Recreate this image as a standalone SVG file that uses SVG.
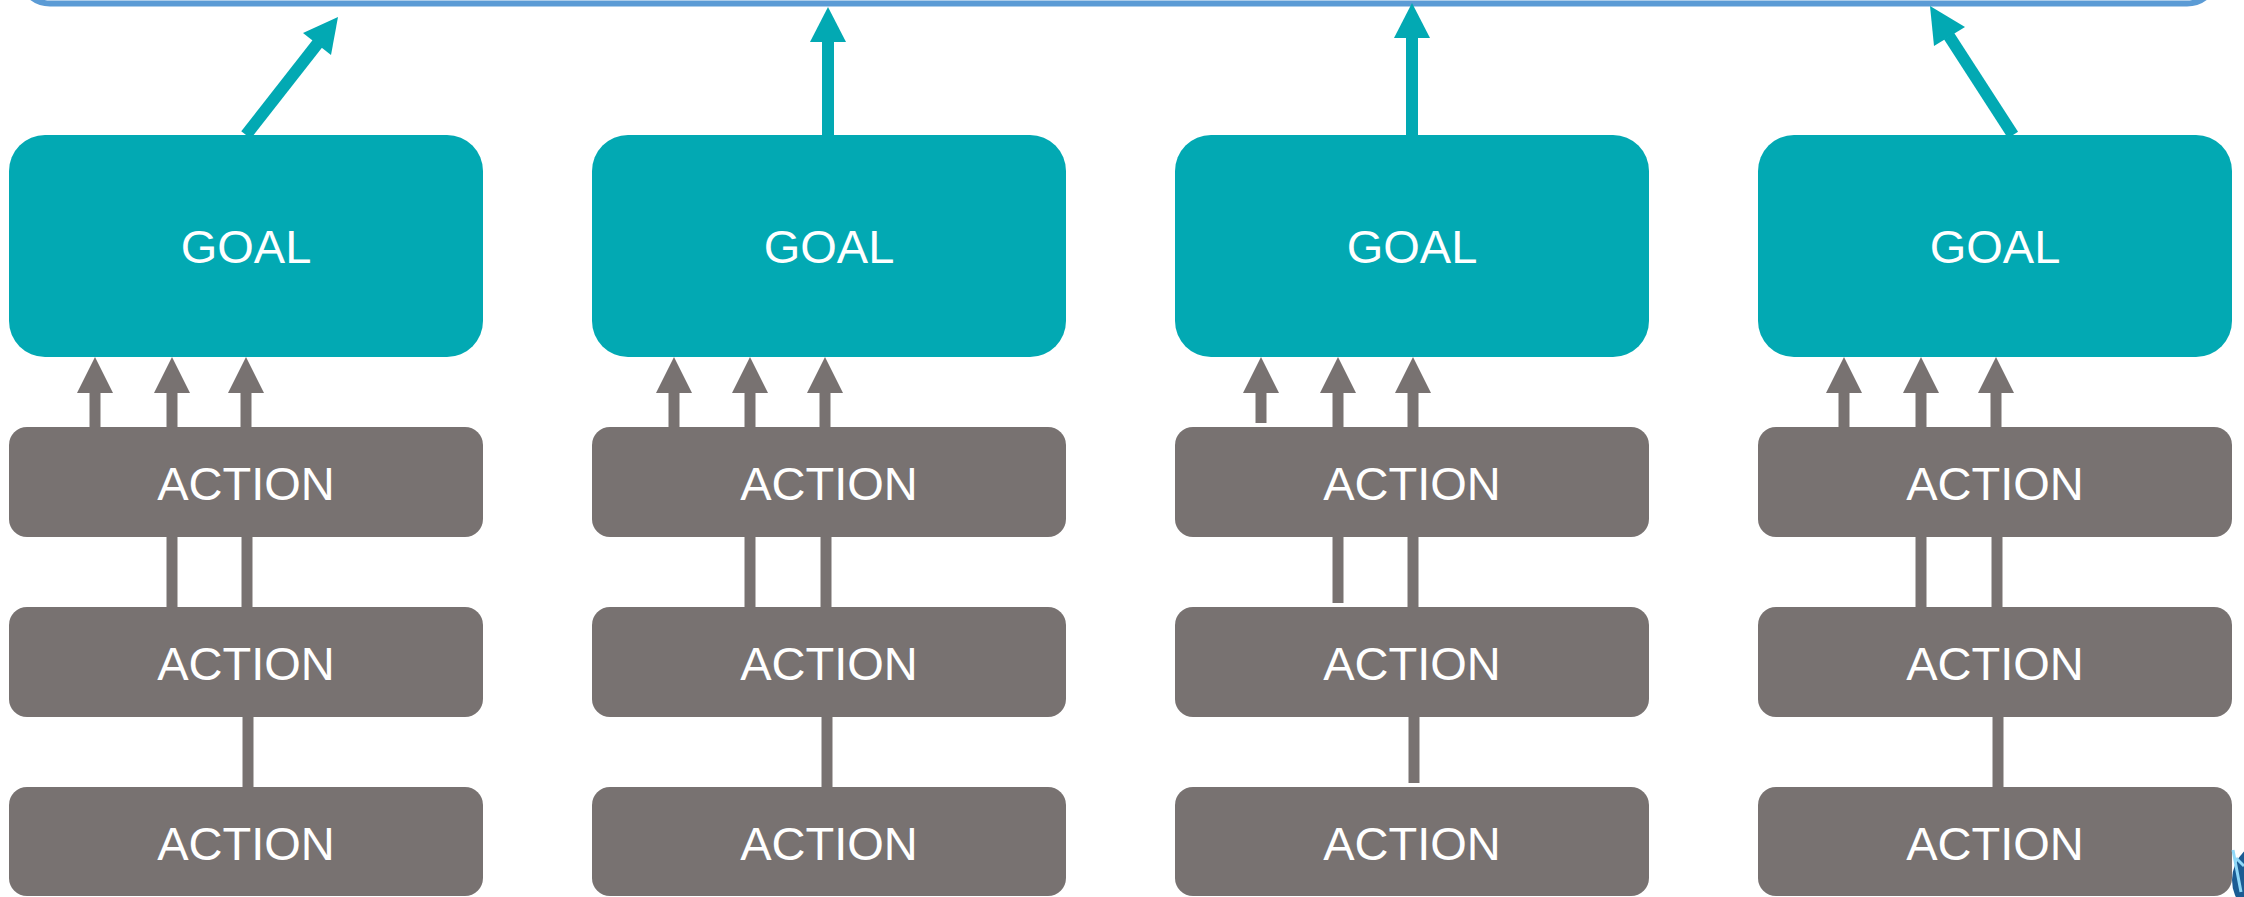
<svg xmlns="http://www.w3.org/2000/svg" xmlns:xlink="http://www.w3.org/1999/xlink" width="2244" height="897" viewBox="0 0 2244 897">
  <style>
    .goal { fill: #02A9B3; }
    .action { fill: #787271; }
    .lbl { fill: #FFFFFF; font-family: "Liberation Sans", Arial, sans-serif; font-size: 47px; text-anchor: middle; }
    .tl { stroke: #02A9B3; stroke-width: 12; fill: none; }
    .gl { stroke: #787271; stroke-width: 11; fill: none; }
    .th { fill: #02A9B3; }
    .gh { fill: #787271; }
  </style>
  <defs>
    <path id="grayHead" d="M-18,393 L0,357 L18,393 Z" class="gh"/>
  </defs>
  <rect width="2244" height="897" fill="#FFFFFF"/>

  <g id="container">
    <rect x="20" y="-60" width="2197" height="63.5" rx="30" ry="30" fill="none" stroke="#5B9BD5" stroke-width="6"/>
  </g>

  <g id="connectors">
    <!-- goal to container -->
    <line class="tl" x1="246" y1="135" x2="318" y2="43"/>
    <path class="th" d="M338,17 L303,33 L331,55 Z"/>
    <line class="tl" x1="828" y1="135" x2="828" y2="41"/>
    <path class="th" d="M828,7 L810,42 L846,42 Z"/>
    <line class="tl" x1="1412" y1="135" x2="1412" y2="37"/>
    <path class="th" d="M1412,3 L1394,38 L1430,38 Z"/>
    <line class="tl" x1="2013" y1="135" x2="1949" y2="36"/>
    <path class="th" d="M1930,6 L1965,27 L1934,46 Z"/>

    <!-- column 1 -->
    <line class="gl" x1="95" y1="427" x2="95" y2="392"/>
    <line class="gl" x1="172" y1="427" x2="172" y2="392"/>
    <line class="gl" x1="246" y1="427" x2="246" y2="392"/>
    <use xlink:href="#grayHead" href="#grayHead" x="95"/>
    <use xlink:href="#grayHead" href="#grayHead" x="172"/>
    <use xlink:href="#grayHead" href="#grayHead" x="246"/>
    <line class="gl" x1="172" y1="607" x2="172" y2="537"/>
    <line class="gl" x1="247" y1="607" x2="247" y2="537"/>
    <line class="gl" x1="248" y1="787" x2="248" y2="717"/>

    <!-- column 2 -->
    <line class="gl" x1="674" y1="427" x2="674" y2="392"/>
    <line class="gl" x1="750" y1="427" x2="750" y2="392"/>
    <line class="gl" x1="825" y1="427" x2="825" y2="392"/>
    <use xlink:href="#grayHead" href="#grayHead" x="674"/>
    <use xlink:href="#grayHead" href="#grayHead" x="750"/>
    <use xlink:href="#grayHead" href="#grayHead" x="825"/>
    <line class="gl" x1="750" y1="607" x2="750" y2="537"/>
    <line class="gl" x1="826" y1="607" x2="826" y2="537"/>
    <line class="gl" x1="827" y1="787" x2="827" y2="717"/>

    <!-- column 3 -->
    <line class="gl" x1="1261" y1="423" x2="1261" y2="392"/>
    <line class="gl" x1="1338" y1="427" x2="1338" y2="392"/>
    <line class="gl" x1="1413" y1="427" x2="1413" y2="392"/>
    <use xlink:href="#grayHead" href="#grayHead" x="1261"/>
    <use xlink:href="#grayHead" href="#grayHead" x="1338"/>
    <use xlink:href="#grayHead" href="#grayHead" x="1413"/>
    <line class="gl" x1="1338" y1="603" x2="1338" y2="537"/>
    <line class="gl" x1="1413" y1="607" x2="1413" y2="537"/>
    <line class="gl" x1="1414" y1="783" x2="1414" y2="717"/>

    <!-- column 4 -->
    <line class="gl" x1="1844" y1="427" x2="1844" y2="392"/>
    <line class="gl" x1="1921" y1="427" x2="1921" y2="392"/>
    <line class="gl" x1="1996" y1="427" x2="1996" y2="392"/>
    <use xlink:href="#grayHead" href="#grayHead" x="1844"/>
    <use xlink:href="#grayHead" href="#grayHead" x="1921"/>
    <use xlink:href="#grayHead" href="#grayHead" x="1996"/>
    <line class="gl" x1="1921" y1="607" x2="1921" y2="537"/>
    <line class="gl" x1="1997" y1="607" x2="1997" y2="537"/>
    <line class="gl" x1="1998" y1="787" x2="1998" y2="717"/>
  </g>

  <!-- column 1 -->
  <g id="goal1"><rect class="goal" x="9" y="135" width="474" height="222" rx="36"/><text class="lbl" x="246" y="263">GOAL</text></g>
  <g id="action1a"><rect class="action" x="9" y="427" width="474" height="110" rx="18"/><text class="lbl" x="246" y="500">ACTION</text></g>
  <g id="action1b"><rect class="action" x="9" y="607" width="474" height="110" rx="18"/><text class="lbl" x="246" y="680">ACTION</text></g>
  <g id="action1c"><rect class="action" x="9" y="787" width="474" height="109" rx="18"/><text class="lbl" x="246" y="860">ACTION</text></g>

  <!-- column 2 -->
  <g id="goal2"><rect class="goal" x="592" y="135" width="474" height="222" rx="36"/><text class="lbl" x="829" y="263">GOAL</text></g>
  <g id="action2a"><rect class="action" x="592" y="427" width="474" height="110" rx="18"/><text class="lbl" x="829" y="500">ACTION</text></g>
  <g id="action2b"><rect class="action" x="592" y="607" width="474" height="110" rx="18"/><text class="lbl" x="829" y="680">ACTION</text></g>
  <g id="action2c"><rect class="action" x="592" y="787" width="474" height="109" rx="18"/><text class="lbl" x="829" y="860">ACTION</text></g>

  <!-- column 3 -->
  <g id="goal3"><rect class="goal" x="1175" y="135" width="474" height="222" rx="36"/><text class="lbl" x="1412" y="263">GOAL</text></g>
  <g id="action3a"><rect class="action" x="1175" y="427" width="474" height="110" rx="18"/><text class="lbl" x="1412" y="500">ACTION</text></g>
  <g id="action3b"><rect class="action" x="1175" y="607" width="474" height="110" rx="18"/><text class="lbl" x="1412" y="680">ACTION</text></g>
  <g id="action3c"><rect class="action" x="1175" y="787" width="474" height="109" rx="18"/><text class="lbl" x="1412" y="860">ACTION</text></g>

  <!-- column 4 -->
  <g id="goal4"><rect class="goal" x="1758" y="135" width="474" height="222" rx="36"/><text class="lbl" x="1995" y="263">GOAL</text></g>
  <g id="action4a"><rect class="action" x="1758" y="427" width="474" height="110" rx="18"/><text class="lbl" x="1995" y="500">ACTION</text></g>
  <g id="action4b"><rect class="action" x="1758" y="607" width="474" height="110" rx="18"/><text class="lbl" x="1995" y="680">ACTION</text></g>
  <g id="action4c"><rect class="action" x="1758" y="787" width="474" height="109" rx="18"/><text class="lbl" x="1995" y="860">ACTION</text></g>

  <!-- partial logo at bottom-right edge -->
  <g id="logo">
    <circle cx="2272" cy="880" r="40" fill="#1B5C93"/>
    <path d="M2233,850 L2241,892 M2236,858 L2244,866" stroke="#8ED8F8" stroke-width="3" fill="none"/>
  </g>
</svg>
